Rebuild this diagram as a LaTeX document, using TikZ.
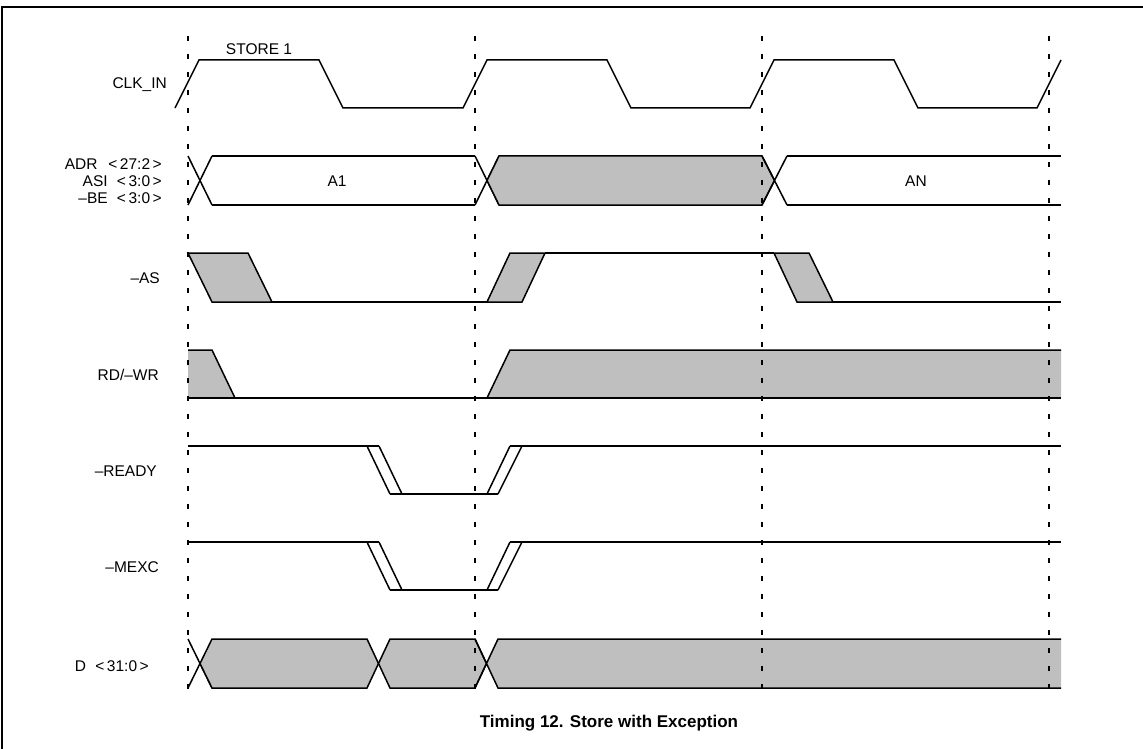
\documentclass[tikz,border=0pt]{standalone}
\usepackage{fontspec}
\setmainfont{Liberation Sans}
\begin{document}
\begin{tikzpicture}[x=1pt,y=-1pt,
  sig/.style={line width=1.5pt,line join=miter,line cap=butt},
  hatch/.style={fill=black!25},
  guide/.style={line width=1.3pt,dash pattern=on 5pt off 13pt},
  frame/.style={line width=2.2pt},
  lbl/.style={font=\fontsize{15.5}{17}\selectfont,anchor=east,inner sep=0pt},
  txt/.style={font=\fontsize{15.5}{17}\selectfont,inner sep=0pt},
  ttl/.style={font=\fontsize{17}{20}\selectfont\bfseries,inner sep=0pt}]
\useasboundingbox (0,0) rectangle (1143,749);
% frame (top and left edges only)
\draw[frame] (1143,7) -- (2,7) -- (2,749);

% ---------- CLK_IN ----------
\draw[sig] (175,108) -- (199,60) -- (319,60) -- (343,108) -- (463,108) -- (487,60)
  -- (607,60) -- (631,108) -- (750,108) -- (774,60) -- (894,60) -- (918,108)
  -- (1037,108) -- (1061,60);

% ---------- ADR bus ----------
\draw[sig] (188,156) -- (212,205) (188,205) -- (212,156);
\draw[sig] (212,156) -- (475,156) (212,205) -- (475,205);
\draw[sig] (475,156) -- (499,205) (475,205) -- (499,156);
\draw[sig,hatch] (487,180.5) -- (499,156) -- (762,156) -- (774.5,180.5) -- (762,205) -- (499,205) -- cycle;
\draw[sig] (762,156) -- (787,205) (762,205) -- (787,156);
\draw[sig] (787,156) -- (1061,156) (787,205) -- (1061,205);

% ---------- -AS ----------
\draw[sig,hatch] (188,253) -- (248,253) -- (272,302) -- (212,302) -- cycle;
\draw[sig] (272,302) -- (487,302);
\draw[sig,hatch] (487,302) -- (522,302) -- (545,253) -- (510,253) -- cycle;
\draw[sig] (545,253) -- (774,253);
\draw[sig,hatch] (774,253) -- (809,253) -- (833,302) -- (797,302) -- cycle;
\draw[sig] (833,302) -- (1061,302);

% ---------- RD/-WR ----------
\fill[hatch] (188,350) -- (212,350) -- (235,398) -- (188,398) -- cycle;
\draw[sig] (188,350) -- (212,350) -- (235,398);
\draw[sig] (188,398) -- (487,398);
\fill[hatch] (487,398) -- (510,350) -- (1061,350) -- (1061,398) -- cycle;
\draw[sig] (487,398) -- (510,350) -- (1061,350);
\draw[sig] (487,398) -- (1061,398);

% ---------- -READY ----------
\draw[sig] (188,446) -- (379,446);
\draw[sig] (367,446) -- (390,494) (379,446) -- (402,494);
\draw[sig] (390,494) -- (498,494);
\draw[sig] (487,494) -- (510,446) (498,494) -- (522,446);
\draw[sig] (510,446) -- (1061,446);

% ---------- -MEXC ----------
\draw[sig] (188,542) -- (379,542);
\draw[sig] (367,542) -- (390,590) (379,542) -- (402,590);
\draw[sig] (390,590) -- (498,590);
\draw[sig] (487,590) -- (510,542) (498,590) -- (522,542);
\draw[sig] (510,542) -- (1061,542);

% ---------- D<31:0> ----------
\draw[sig] (188,639) -- (212,688) (188,688) -- (200,663.5);
\draw[sig,hatch] (200,663.5) -- (212,639) -- (367,639) -- (378.5,663.5) -- (367,688) -- (212,688) -- cycle;
\draw[sig,hatch] (378.5,663.5) -- (390,639) -- (475,639) -- (486.5,663.5) -- (475,688) -- (390,688) -- cycle;
\fill[hatch] (486.5,663.5) -- (498,639) -- (1061,639) -- (1061,688) -- (498,688) -- cycle;
\draw[sig] (475,639) -- (498,688) -- (1061,688) (475,688) -- (498,639) -- (1061,639);

% ---------- guide lines ----------
\foreach \gx in {188,475,762,1049}
  \draw[guide] (\gx,36) -- (\gx,695);

% ---------- labels ----------
\node[txt] (store) at (259,49) {STORE 1};
\node[lbl] (clk) at (167,85) {CLK\_IN};
\node[lbl] (adr) at (162,164) {ADR\hspace{0.7em}<\,27:2\,>};
\node[lbl] (asi) at (162,181) {ASI\hspace{0.6em}<\,3:0\,>};
\node[lbl] (be) at (162,198) {–BE\hspace{0.6em}<\,3:0\,>};
\node[txt] (a1) at (337,181) {A1};
\node[txt] (an) at (916,181) {AN};
\node[lbl] (as) at (160,278) {–AS};
\node[lbl] (rdwr) at (159,375) {RD/–WR};
\node[lbl] (ready) at (157,471) {–READY};
\node[lbl] (mexc) at (159,567) {–MEXC};
\node[lbl] (d) at (149,666) {D\hspace{0.6em}<\,31:0\,>};
\node[ttl] (title) at (609,723) {Timing 12. Store with Exception};
\end{tikzpicture}
\end{document}
